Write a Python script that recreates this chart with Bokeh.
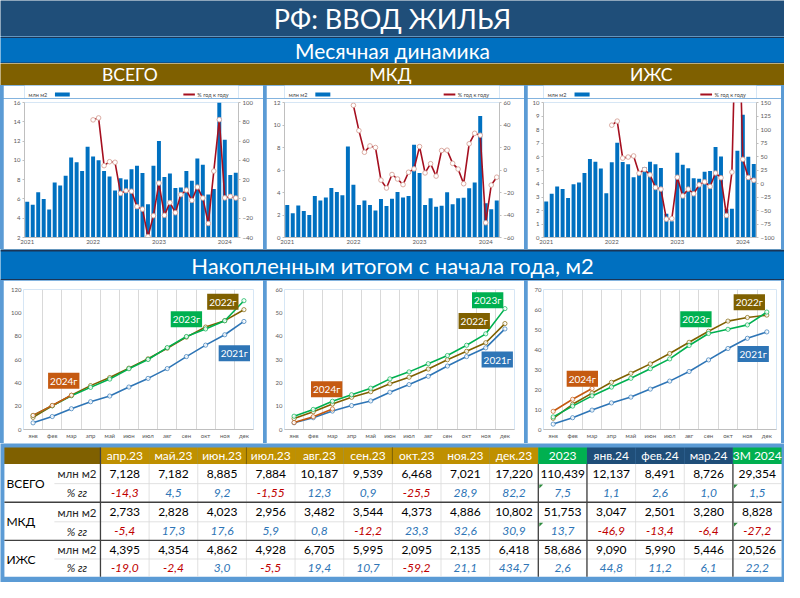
from bokeh.plotting import figure
from bokeh.models import Range1d, LinearAxis, FixedTicker, Label, Spacer
from bokeh.layouts import column, row
from bokeh.core.properties import value
from bokeh.embed import file_html
from bokeh.resources import INLINE

FONT = "Lato"
NAVY = "#1F4E79"
BLUE = "#0070C0"
BROWN = "#7F6000"
GOLD = "#BF9000"
GREEN = "#00B050"
LIGHT = "#5B9BD5"
DARK_LINE = "#1A3557"
BAR = "#0070C0"
RED = "#A50F1F"
C2021 = "#2E75B6"
C2022 = "#7F6000"
C2023 = "#00B050"
C2024 = "#C55A11"
POS = "#2E75B6"
NEG = "#C00000"

# ---------------- data ----------------
year_labels = ["2021", "2022", "2023", "2024"]
months = ["янв", "фев", "мар", "апр", "май", "июн", "июл", "авг", "сен", "окт", "ноя", "дек"]

# monthly, Jan 2021 .. Mar 2024, mln m2
vsego_month = [5.7, 5.4, 6.7, 6.0, 4.9, 7.7, 7.4, 8.4, 10.3, 9.8, 8.9, 11.4,
               10.4, 10.0, 8.9, 8.32, 6.87, 8.14, 8.01, 9.07, 9.45, 8.68, 5.45, 9.45,
               12.0, 8.28, 8.64, 7.128, 7.182, 8.885, 7.884, 10.187, 9.539, 6.468, 7.021, 17.22,
               12.137, 8.491, 8.726]
# % y/y, Jan 2022 .. Mar 2024
vsego_yoy = [82, 84, 34.5, 38.6, 38, 5.8, 8.5, 8, -8, -10.6, -39, -17.4,
             16.4, -17, -3.8, -14.3, 4.5, 9.2, -1.55, 12.3, 0.9, -25.5, 28.9, 82.2,
             1.1, 2.6, 1.0]

mkd_month = [2.9, 2.15, 2.85, 2.35, 2.0, 3.7, 3.3, 3.55, 4.4, 4.05, 3.75, 8.1,
             4.7, 2.9, 3.3, 2.89, 2.41, 3.42, 2.79, 3.45, 4.04, 3.55, 3.69, 8.25,
             5.74, 2.89, 3.50, 2.733, 2.828, 4.023, 2.956, 3.482, 3.544, 4.373, 4.886, 10.802,
             3.047, 2.501, 3.280]
mkd_yoy = [57.5, 35, 15.8, 21.4, 20, -9, -16, -4, -8, -13, -2, 1,
           20.8, -2.6, 5.6, -5.4, 17.3, 17.6, 5.9, 0.8, -12.2, 23.3, 32.6, 30.9,
           -46.9, -13.4, -6.4]

izhs_month = [2.67, 3.25, 3.77, 3.6, 2.93, 3.94, 4.08, 4.77, 5.82, 5.62, 5.11, 3.28,
              5.57, 7.02, 5.6, 5.43, 4.46, 4.72, 5.22, 5.62, 5.42, 5.14, 1.76, 1.20,
              6.28, 5.39, 5.13, 4.395, 4.354, 4.862, 4.928, 6.705, 5.995, 2.095, 2.135, 6.418,
              9.09, 5.99, 5.446]
izhs_yoy = [108, 115.5, 47, 49, 51, 19, 26, 16, -7.5, -10.4, -66, -65,
            11.6, -23, -10.4, -19.0, -2.4, 3.0, -5.5, 19.4, 10.7, -59.2, 21.1, 434.7,
            44.8, 11.2, 6.1]

# cumulative since start of year, mln m2
vsego_cum_2021 = [5.7, 11.1, 17.8, 23.8, 28.7, 36.4, 43.8, 52.2, 62.5, 72.3, 81.2, 92.6]
vsego_cum_2022 = [10.4, 20.4, 29.3, 37.6, 44.5, 52.6, 60.6, 69.7, 79.2, 87.8, 93.3, 102.7]
vsego_cum_2023 = [12.0, 20.3, 28.9, 36.1, 43.2, 52.1, 60.0, 70.2, 79.7, 86.2, 93.2, 110.4]
vsego_cum_2024 = [12.1, 20.6, 29.4]

mkd_cum_2021 = [2.9, 5.05, 7.9, 10.25, 12.25, 15.95, 19.25, 22.8, 27.2, 31.25, 35.0, 43.1]
mkd_cum_2022 = [4.7, 7.6, 10.9, 13.8, 16.2, 19.6, 22.4, 25.9, 29.9, 33.5, 37.2, 45.4]
mkd_cum_2023 = [5.7, 8.6, 12.1, 14.9, 17.7, 21.7, 24.7, 28.2, 31.7, 36.1, 41.0, 51.8]
mkd_cum_2024 = [3.0, 5.5, 8.8]

izhs_cum_2021 = [2.7, 5.9, 9.7, 13.3, 16.2, 20.2, 24.2, 29.0, 34.8, 40.5, 45.6, 48.8]
izhs_cum_2022 = [5.6, 12.6, 18.2, 23.6, 28.1, 32.8, 38.0, 43.6, 49.1, 54.2, 56.0, 57.2]
izhs_cum_2023 = [6.3, 11.7, 16.8, 21.2, 25.6, 30.4, 35.3, 42.0, 48.0, 50.1, 52.3, 58.7]
izhs_cum_2024 = [9.1, 15.1, 20.5]

# table
table_headers = ["апр.23", "май.23", "июн.23", "июл.23", "авг.23", "сен.23", "окт.23",
                 "ноя.23", "дек.23", "2023", "янв.24", "фев.24", "мар.24", "3М 2024"]
header_colors = [GOLD] * 9 + [GREEN] + [NAVY] * 3 + [GREEN]
groups = ["ВСЕГО", "МКД", "ИЖС"]
units = ["млн м2", "% гг"]
vsego_vol = ["7,128", "7,182", "8,885", "7,884", "10,187", "9,539", "6,468", "7,021", "17,220",
             "110,439", "12,137", "8,491", "8,726", "29,354"]
vsego_pct = ["-14,3", "4,5", "9,2", "-1,55", "12,3", "0,9", "-25,5", "28,9", "82,2",
             "7,5", "1,1", "2,6", "1,0", "1,5"]
mkd_vol = ["2,733", "2,828", "4,023", "2,956", "3,482", "3,544", "4,373", "4,886", "10,802",
           "51,753", "3,047", "2,501", "3,280", "8,828"]
mkd_pct = ["-5,4", "17,3", "17,6", "5,9", "0,8", "-12,2", "23,3", "32,6", "30,9",
           "13,7", "-46,9", "-13,4", "-6,4", "-27,2"]
izhs_vol = ["4,395", "4,354", "4,862", "4,928", "6,705", "5,995", "2,095", "2,135", "6,418",
            "58,686", "9,090", "5,990", "5,446", "20,526"]
izhs_pct = ["-19,0", "-2,4", "3,0", "-5,5", "19,4", "10,7", "-59,2", "21,1", "434,7",
            "2,6", "44,8", "11,2", "6,1", "22,2"]
legend_left = "млн м2"
legend_right = "% год к году"


# ---------------- helpers ----------------
def base_fig(w, h, xr, yr, ml=0, mr=0, mt=0, mb=0, axes=True):
    kw = {}
    if not axes:
        kw = dict(x_axis_location=None, y_axis_location=None)
    p = figure(width=w, height=h, x_range=xr, y_range=yr,
               min_border_left=ml, min_border_right=mr, min_border_top=mt, min_border_bottom=mb,
               toolbar_location=None, output_backend="svg", **kw)
    p.outline_line_color = None
    p.grid.visible = False
    return p


def banner(w, h, bg, texts, xs, size, top_line=0, bottom_line=0):
    p = base_fig(w, h, Range1d(0, 800), Range1d(0, 1), axes=False)
    p.background_fill_color = bg
    p.border_fill_color = bg
    if top_line:
        p.quad(left=0, right=800, top=1, bottom=1 - top_line / h, fill_color=DARK_LINE, line_color=None)
    if bottom_line:
        p.quad(left=0, right=800, top=bottom_line / h, bottom=0, fill_color=DARK_LINE, line_color=None)
    p.text(x=xs, y=[0.5] * len(xs), text=texts, text_align="center", text_baseline="middle",
           text_color="white", text_font=value(FONT), text_font_size=size)
    return p


def style_axis(ax, size="6px", line=True, ticks=True):
    ax.major_label_text_font = FONT
    ax.major_label_text_font_size = size
    ax.major_label_text_color = "#595959"
    ax.axis_line_color = "#BFBFBF" if line else None
    ax.major_tick_line_color = "#BFBFBF" if ticks else None
    ax.major_tick_in = 0
    ax.major_tick_out = 2 if ticks else 0
    ax.minor_tick_line_color = None
    ax.major_label_standoff = 2


def legend_strip(w, h=13):
    p = base_fig(w, h, Range1d(0, w), Range1d(h, 0), axes=False)
    p.background_fill_color = "white"
    p.border_fill_color = "white"
    p.text(x=[5], y=[9], text=[legend_left], text_baseline="middle", text_color="#404040",
           text_font=value(FONT), text_font_size="5.5px")
    p.quad(left=37, right=55, top=7, bottom=11, fill_color=BAR, line_color=None)
    p.line(x=[w - 67, w - 53], y=[9, 9], line_color=RED, line_width=1.8)
    p.text(x=[w - 50], y=[9], text=[legend_right], text_baseline="middle", text_color="#404040",
           text_font=value(FONT), text_font_size="5.5px")
    return p


def monthly_chart(w, bars, yoy, ylim, ystep, rlim, rstep, ml, mr, mt=4, mb=12, h=151):
    n = len(bars)
    p = base_fig(w, h, Range1d(-0.5, n - 0.5), Range1d(ylim[0], ylim[1]), ml, mr, mt, mb)
    p.background_fill_color = "white"
    p.border_fill_color = "white"
    x = list(range(n))
    p.vbar(x=x, top=bars, bottom=ylim[0], width=0.72, fill_color=BAR, line_color=None)
    p.extra_y_ranges = {"yoy": Range1d(rlim[0], rlim[1])}
    xl = list(range(n - len(yoy), n))
    p.line(xl, yoy, y_range_name="yoy", line_color=RED, line_width=1.6)
    p.scatter(xl, yoy, y_range_name="yoy", size=4.6, fill_color="white",
              line_color="#D7A399", line_width=0.9)
    rax = LinearAxis(y_range_name="yoy")
    p.add_layout(rax, "right")
    lax = p.yaxis[0]
    lax.ticker = FixedTicker(ticks=list(range(ylim[0], ylim[1] + 1, ystep)))
    rax.ticker = FixedTicker(ticks=list(range(rlim[0], rlim[1] + 1, rstep)))
    style_axis(lax)
    style_axis(rax)
    xax = p.xaxis[0]
    yt = [12 * i for i in range(len(year_labels))]
    xax.ticker = FixedTicker(ticks=yt)
    xax.major_label_overrides = dict(zip(yt, year_labels))
    style_axis(xax, ticks=False)
    return column(legend_strip(w), p)


def cum_chart(w, series, ytop, ystep, ml, mr, mt, mb, tags, h=163):
    p = base_fig(w, h, Range1d(-0.5, 11.5), Range1d(0, ytop), ml, mr, mt, mb)
    p.background_fill_color = "white"
    p.border_fill_color = "white"
    p.xgrid.visible = True
    p.xgrid.ticker = FixedTicker(ticks=[i - 0.5 for i in range(13)])
    p.xgrid.grid_line_color = "#D9D9D9"
    for vals, col in series:
        xs = list(range(len(vals)))
        p.line(xs, vals, line_color=col, line_width=1.6)
        p.scatter(xs, vals, size=4.2, fill_color="white", fill_alpha=0.85, line_color=col, line_width=0.7)
    yax = p.yaxis[0]
    yax.ticker = FixedTicker(ticks=list(range(0, ytop + 1, ystep)))
    style_axis(yax, line=False, ticks=False)
    xax = p.xaxis[0]
    xax.ticker = FixedTicker(ticks=list(range(12)))
    xax.major_label_overrides = dict(zip(range(12), months))
    style_axis(xax, ticks=False)
    for txt, col, xi, yv in tags:
        p.add_layout(Label(x=xi, y=yv, text=txt, text_align="center", text_baseline="middle",
                           text_color="white", text_font=FONT, text_font_size="10px",
                           background_fill_color=col, padding=2))
    return p


def sp(w, h):
    return Spacer(width=w, height=h, styles={"background-color": LIGHT})


# ---------------- banners ----------------
title = banner(784, 36, NAVY, ["РФ: ВВОД ЖИЛЬЯ"], [400], "27px")
sub1 = banner(784, 27, BLUE, ["Месячная динамика"], [400], "21px", top_line=1.5, bottom_line=1)
sub2 = banner(784, 22, BROWN, groups, [132, 398, 664], "17.5px")
sub3 = banner(784, 31, BLUE, ["Накопленным итогом с начала года, м2"], [400], "22px",
              top_line=2, bottom_line=1.5)

# ---------------- monthly charts ----------------
m1 = monthly_chart(260, vsego_month, vsego_yoy, (2, 16), 2, (-40, 100), 20, ml=21, mr=25)
m2 = monthly_chart(258, mkd_month, mkd_yoy, (0, 12), 2, (-60, 60), 20, ml=18, mr=25)
m3 = monthly_chart(254, izhs_month, izhs_yoy, (0, 10), 1, (-100, 150), 25, ml=16, mr=25)
top_row = row(sp(3, 164), m1, sp(3, 164), m2, sp(3, 164), m3, sp(3, 164),
              styles={"background-color": LIGHT})

# ---------------- cumulative charts ----------------
c1 = cum_chart(260, [(vsego_cum_2021, C2021), (vsego_cum_2022, C2022),
                     (vsego_cum_2023, C2023), (vsego_cum_2024, C2024)],
               120, 20, ml=20, mr=10, mt=9, mb=14,
               tags=[("2022г", C2022, 9.9, 109.5), ("2023г", C2023, 8.0, 94.5),
                     ("2021г", C2021, 10.5, 65.4), ("2024г", C2024, 1.6, 41.7)])
c2 = cum_chart(258, [(mkd_cum_2021, C2021), (mkd_cum_2022, C2022),
                     (mkd_cum_2023, C2023), (mkd_cum_2024, C2024)],
               60, 10, ml=18, mr=10, mt=7, mb=13,
               tags=[("2023г", C2023, 10.1, 55.4), ("2022г", C2022, 9.4, 46.5),
                     ("2021г", C2021, 10.6, 30.0), ("2024г", C2024, 1.7, 17.2)])
c3 = cum_chart(254, [(izhs_cum_2021, C2021), (izhs_cum_2022, C2022),
                     (izhs_cum_2023, C2023), (izhs_cum_2024, C2024)],
               70, 10, ml=16, mr=5, mt=6, mb=13,
               tags=[("2022г", C2022, 10.1, 63.6), ("2023г", C2023, 7.35, 55.1),
                     ("2021г", C2021, 10.3, 37.7), ("2024г", C2024, 1.5, 25.4)])
cum_row = row(sp(3, 163), c1, sp(3, 163), c2, sp(3, 163), c3, sp(3, 163),
              styles={"background-color": LIGHT})

# ---------------- table ----------------
tbl = base_fig(784, 139, Range1d(0, 800), Range1d(598, 456), axes=False)
tbl.background_fill_color = LIGHT
tbl.border_fill_color = LIGHT
ncol = len(table_headers)
x0, x1 = 102.0, 797.0
cw = (x1 - x0) / ncol
lefts = [x0 + i * cw for i in range(ncol)]
rights = [l + cw for l in lefts]
centers = [l + cw / 2 for l in lefts]
H_TOP, H_BOT = 460, 477
row_edges = [477, 497, 516, 536, 555, 574, 592]

tbl.quad(left=4, right=797, top=H_BOT, bottom=592, fill_color="white", line_color=None)
tbl.quad(left=[4] + lefts, right=[102] + rights, top=H_TOP, bottom=H_BOT,
         fill_color=[BROWN] + header_colors, line_color=None)
tbl.text(x=centers, y=[(H_TOP + H_BOT) / 2] * ncol, text=table_headers, text_align="center",
         text_baseline="middle", text_color="white", text_font=value(FONT), text_font_size="12px")

# light grid lines
lg_x = [[l, l] for l in lefts[1:]]
lg_y = [[H_BOT, 592]] * len(lg_x)
lg_x += [[55, 797], [55, 797], [55, 797]]
lg_y += [[497, 497], [536, 536], [574, 574]]
tbl.multi_line(xs=lg_x, ys=lg_y, line_color="#D9D9D9", line_width=0.8)
# dark separators
dk_x = [[4, 797], [4, 797], [102, 102], [lefts[9], lefts[9]], [lefts[10], lefts[10]],
        [lefts[13], lefts[13]]]
dk_y = [[516, 516], [555, 555], [H_TOP, 592], [H_BOT, 592], [H_BOT, 592], [H_BOT, 592]]
tbl.multi_line(xs=dk_x, ys=dk_y, line_color="#404040", line_width=1.3)
tbl.multi_line(xs=[[lefts[3], lefts[3]], [lefts[6], lefts[6]]], ys=[[H_TOP, H_BOT], [H_TOP, H_BOT]],
               line_color="#7F6000", line_width=1)

vols = [vsego_vol, mkd_vol, izhs_vol]
pcts = [vsego_pct, mkd_pct, izhs_pct]
for g in range(3):
    yv = (row_edges[2 * g] + row_edges[2 * g + 1]) / 2
    yp = (row_edges[2 * g + 1] + row_edges[2 * g + 2]) / 2
    tbl.text(x=[6], y=[row_edges[2 * g + 1]], text=[groups[g]], text_baseline="middle",
             text_color="black", text_font=value(FONT), text_font_size="12px")
    tbl.text(x=[78], y=[yv], text=[units[0]], text_align="center", text_baseline="middle",
             text_color="#262626", text_font=value(FONT), text_font_size="11.5px")
    tbl.text(x=[78], y=[yp], text=[units[1]], text_align="center", text_baseline="middle",
             text_color="#262626", text_font=value(FONT), text_font_size="11.5px",
             text_font_style="italic")
    tbl.text(x=centers, y=[yv] * ncol, text=vols[g], text_align="center", text_baseline="middle",
             text_color="black", text_font=value(FONT), text_font_size="12px")
    cols = [NEG if s.startswith("-") else POS for s in pcts[g]]
    tbl.text(x=centers, y=[yp] * ncol, text=pcts[g], text_align="center", text_baseline="middle",
             text_color=cols, text_font=value(FONT), text_font_size="12px",
             text_font_style="italic")

# small green markers in the corner of some cells
tri_x, tri_y = [], []
for ci in (9, 13):
    for top in (497, 536):
        l = lefts[ci] + 1
        tri_x.append([l, l + 4, l])
        tri_y.append([top + 1, top + 1, top + 5])
tbl.patches(xs=tri_x, ys=tri_y, fill_color="#2E8B3E", line_color=None)

root = column(title, sub1, sub2, top_row, sub3, cum_row, tbl)

open("out.html", "w").write(file_html(root, INLINE))
